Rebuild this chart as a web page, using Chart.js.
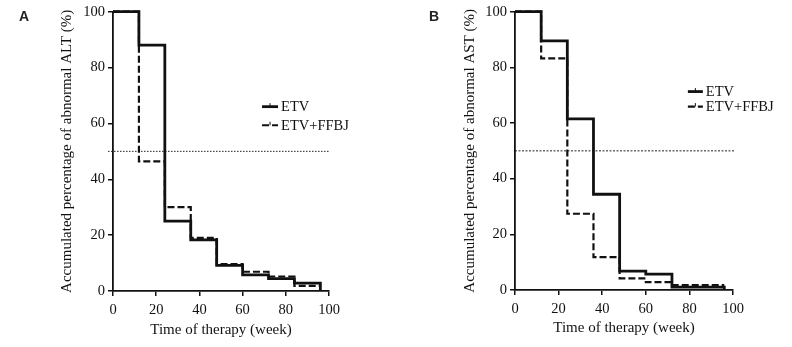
<!DOCTYPE html>
<html>
<head>
<meta charset="utf-8">
<script src="https://cdn.jsdelivr.net/npm/chart.js@4.4.1/dist/chart.umd.min.js"></script>
<style>
  html, body { margin: 0; padding: 0; background: #fff; }
  #wrap { position: relative; width: 792px; height: 347px; overflow: hidden; }
  .panel { position: absolute; top: 0; height: 347px; }
  #panelA { left: 0; width: 396px; }
  #panelB { left: 400px; width: 392px; }
  .tag { position: absolute; top: 8px; line-height: 14px; font: bold 14px "Liberation Sans", Arial, sans-serif; color: #222; }
</style>
</head>
<body>
<div id="wrap">
  <div class="panel" id="panelA"><canvas id="chartA" width="396" height="347"></canvas></div>
  <div class="panel" id="panelB"><canvas id="chartB" width="392" height="347"></canvas></div>
  <div class="tag" style="left:19px">A</div>
  <div class="tag" style="left:429px">B</div>
</div>
<script>
// follow-up visits, weeks
const weeks = [0, 12, 24, 36, 48, 60, 72, 84, 96];

// abnormal ALT, % of patients still abnormal
const altEtv = [100, 88, 25, 18.3, 9.2, 5.8, 4.4, 2.8, 0];
const altEtvFfbj = [100, 46.4, 30, 19, 9.6, 6.9, 5.2, 1.8, 1.8];

// abnormal AST, % of patients still abnormal
const astEtv = [100, 89.5, 61.5, 34.4, 6.8, 5.7, 1, 1, 0];
const astEtvFfbj = [100, 83.2, 27.4, 11.8, 4.2, 2.8, 1.8, 1.8, 1.8];

const seriesNames = ['ETV', 'ETV+FFBJ'];
const xTicks = [0, 20, 40, 60, 80, 100];
const yTicks = [0, 20, 40, 60, 80, 100];

// 50% reference line, start/end in weeks
const medianLevel = 50;
const medianSpanA = [-2.3, 100.5];
const medianSpanB = [0, 100.5];

const serif = '"Liberation Serif", "Times New Roman", serif';
const ink = '#111';

const toPoints = (xs, ys) => xs.map((x, i) => ({ x: x, y: ys[i] }));

// legend with small censor tick on each sample line
const kmLegend = {
  id: 'kmLegend',
  afterDatasetsDraw(chart, args, opts) {
    const { ctx, scales } = chart;
    const x0 = scales.x.getPixelForValue(opts.x);
    let y0 = scales.y.getPixelForValue(opts.y);
    ctx.save();
    ctx.font = '14.5px ' + serif;
    ctx.textBaseline = 'middle';
    ctx.fillStyle = ink;
    ctx.strokeStyle = ink;
    seriesNames.forEach(name => {
      const ds = chart.data.datasets.find(d => d.label === name);
      ctx.lineWidth = ds.borderWidth;
      ctx.setLineDash(ds.borderDash || []);
      ctx.beginPath();
      ctx.moveTo(x0, y0);
      ctx.lineTo(x0 + opts.sample, y0);
      ctx.stroke();
      ctx.setLineDash([]);
      ctx.lineWidth = 1;
      ctx.beginPath();
      ctx.moveTo(x0 + opts.sample / 2, y0 - 3.5);
      ctx.lineTo(x0 + opts.sample / 2, y0);
      ctx.stroke();
      ctx.fillText(ds.label, x0 + opts.sample + 3, y0 + 1);
      y0 += opts.gap;
    });
    ctx.restore();
  }
};

function makeChart(id, etv, combo, span, box) {
  const datasets = [
    {
      label: seriesNames[1],
      data: toPoints(weeks, combo),
      borderColor: ink,
      borderWidth: 2.2,
      borderDash: [7, 3],
      stepped: true,
      pointRadius: 0,
      clip: 4,
      order: 1
    },
    {
      label: seriesNames[0],
      data: toPoints(weeks, etv),
      borderColor: ink,
      borderWidth: 2.8,
      stepped: true,
      pointRadius: 0,
      clip: 4,
      order: 2
    },
    {
      label: 'median',
      data: toPoints(span, [medianLevel, medianLevel]),
      borderColor: '#222',
      borderWidth: 1,
      borderDash: box.dots,
      pointRadius: 0,
      clip: false,
      order: 3
    }
  ];

  return new Chart(document.getElementById(id), {
    type: 'line',
    data: { datasets: datasets },
    plugins: [kmLegend],
    options: {
      responsive: false,
      animation: false,
      events: [],
      layout: { padding: { left: 0, top: 10, right: box.right, bottom: 0 } },
      plugins: {
        legend: { display: false },
        tooltip: { enabled: false },
        kmLegend: box.legend
      },
      scales: {
        x: {
          type: 'linear',
          min: 0,
          max: 100,
          afterBuildTicks: s => { s.ticks = xTicks.map(v => ({ value: v })); },
          afterFit: s => { s.height = box.xHeight; },
          border: { color: ink, width: 1.8 },
          grid: { drawOnChartArea: false, drawTicks: true, tickLength: 5, color: ink, lineWidth: 1.5 },
          ticks: { color: ink, padding: 5, font: { family: serif, size: 14.5 } },
          title: {
            display: true,
            text: 'Time of therapy (week)',
            color: ink,
            font: { family: serif, size: 15 },
            padding: { top: 0, bottom: box.xTitlePad }
          }
        },
        y: {
          min: 0,
          max: 100,
          afterBuildTicks: s => { s.ticks = yTicks.map(v => ({ value: v })); },
          afterFit: s => { s.width = box.yWidth; },
          border: { color: ink, width: 1.8 },
          grid: { drawOnChartArea: false, drawTicks: true, tickLength: 5, color: ink, lineWidth: 1.5 },
          ticks: { color: ink, padding: 3, font: { family: serif, size: 14.5 } },
          title: {
            display: true,
            text: box.yTitle,
            color: ink,
            font: { family: serif, size: 15 },
            padding: { top: box.yTitlePad, bottom: 0 }
          }
        }
      }
    }
  });
}

makeChart('chartA', altEtv, altEtvFfbj, medianSpanA, {
  right: 67, xHeight: 56, yWidth: 113, xTitlePad: 8, yTitlePad: 58,
  dots: [1.5, 1.5],
  yTitle: 'Accumulated percentage of abnormal ALT (%)',
  legend: { x: 69, y: 66, gap: 18.6, sample: 16 }
});

makeChart('chartB', astEtv, astEtvFfbj, medianSpanB, {
  right: 59, xHeight: 57, yWidth: 115, xTitlePad: 10, yTitlePad: 61,
  dots: [2, 1.5],
  yTitle: 'Accumulated percentage of abnormal AST (%)',
  legend: { x: 79.3, y: 71.3, gap: 15, sample: 15 }
});
</script>
</body>
</html>
